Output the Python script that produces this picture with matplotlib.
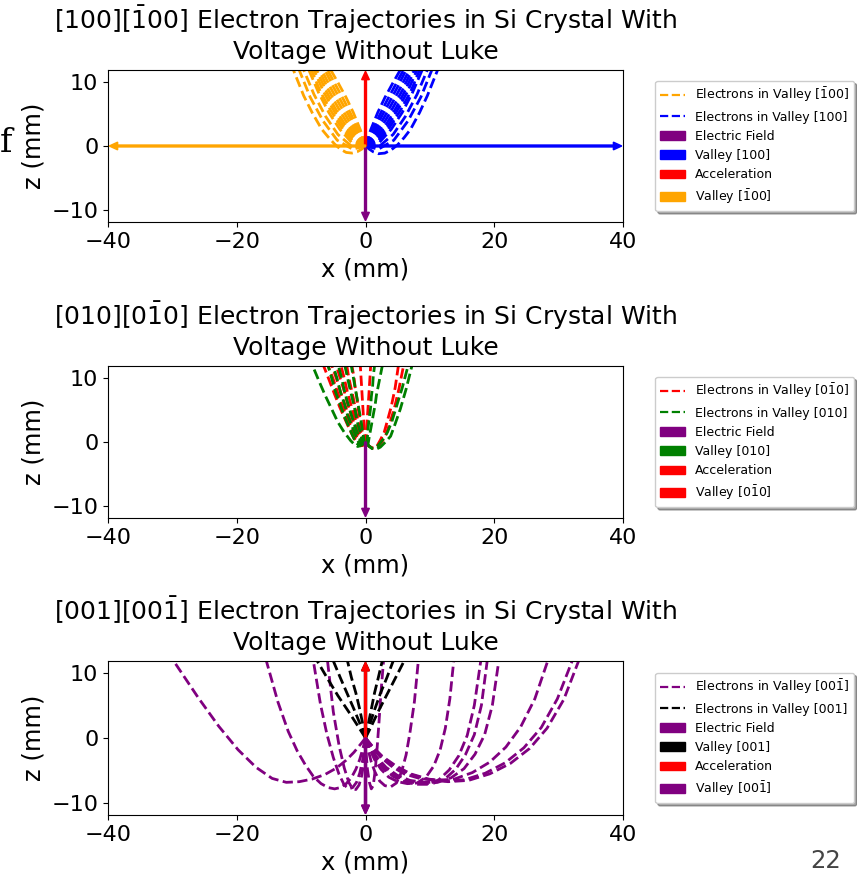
import matplotlib
matplotlib.use("Agg")
from matplotlib import pyplot as plt
from matplotlib.lines import Line2D
from matplotlib.patches import Patch

# ---- panel 1: valleys [100] / [-100] ----
p1_title = "[100][$\\bar{1}$00] Electron Trajectories in Si Crystal With\nVoltage Without Luke"
p1_blue_x = [[0, 0.8, 1.9, 3.0, 4.2, 5.4],
             [0, 1.0, 2.2, 3.3, 4.6, 5.9],
             [0, 1.2, 2.4, 3.6, 5.0, 6.3],
             [0, 1.4, 2.7, 4.0, 5.4, 6.8],
             [0, 1.6, 3.0, 4.4, 5.8, 7.2],
             [0, 1.8, 3.3, 4.8, 6.2, 7.6],
             [0, 2.0, 3.6, 5.1, 6.6, 8.0],
             [0, 2.1, 3.8, 5.4, 7.0, 8.4],
             [0, 2.2, 4.0, 5.7, 7.3, 8.8],
             [0, 2.2, 4.3, 6.2, 8.0, 9.6],
             [0, 2.0, 4.4, 6.6, 8.6, 10.3],
             [0, 0.6, 1.2, 2.0, 3.0, 4.0, 5.0, 6.0, 7.0, 8.4, 9.6, 11.2]]
p1_blue_z = [[0, 2.5, 5.2, 7.5, 9.7, 11.8],
             [0, 2.2, 4.8, 7.0, 9.4, 11.8],
             [0, 2.0, 4.4, 6.6, 9.2, 11.8],
             [0, 1.8, 4.1, 6.4, 9.0, 11.8],
             [0, 1.6, 3.8, 6.2, 8.8, 11.8],
             [0, 1.4, 3.5, 6.0, 8.7, 11.8],
             [0, 1.2, 3.3, 5.8, 8.6, 11.8],
             [0, 0.9, 3.0, 5.5, 8.4, 11.8],
             [0, 0.6, 2.6, 5.2, 8.3, 11.8],
             [0, 0.0, 1.8, 4.6, 8.0, 11.8],
             [0, -0.5, 0.9, 3.9, 7.6, 11.8],
             [0, -0.5, -0.9, -1.2, -1.1, -0.6, 0.2, 1.3, 2.6, 5.2, 7.8, 11.8]]
p1_orange_x = [[0, -0.8, -1.9, -3.0, -4.2, -5.4],
               [0, -1.0, -2.2, -3.3, -4.6, -5.9],
               [0, -1.2, -2.4, -3.6, -5.0, -6.3],
               [0, -1.4, -2.7, -4.0, -5.4, -6.8],
               [0, -1.6, -3.0, -4.4, -5.8, -7.2],
               [0, -1.8, -3.3, -4.8, -6.2, -7.6],
               [0, -2.0, -3.6, -5.1, -6.6, -8.0],
               [0, -2.1, -3.8, -5.4, -7.0, -8.4],
               [0, -2.2, -4.0, -5.7, -7.3, -8.8],
               [0, -2.2, -4.3, -6.2, -8.0, -9.6],
               [0, -2.0, -4.4, -6.6, -8.6, -10.3],
               [0, -0.6, -1.3, -2.1, -3.0, -3.9, -4.8, -5.8, -6.8, -8.3, -9.6, -11.2]]
p1_orange_z = [[0, 2.5, 5.2, 7.5, 9.7, 11.8],
               [0, 2.2, 4.8, 7.0, 9.4, 11.8],
               [0, 2.0, 4.4, 6.6, 9.2, 11.8],
               [0, 1.8, 4.1, 6.4, 9.0, 11.8],
               [0, 1.6, 3.8, 6.2, 8.8, 11.8],
               [0, 1.4, 3.5, 6.0, 8.7, 11.8],
               [0, 1.2, 3.3, 5.8, 8.6, 11.8],
               [0, 0.9, 3.0, 5.5, 8.4, 11.8],
               [0, 0.6, 2.6, 5.2, 8.3, 11.8],
               [0, 0.0, 1.8, 4.6, 8.0, 11.8],
               [0, -0.5, 0.9, 3.9, 7.6, 11.8],
               [0, -0.5, -0.9, -1.1, -1.0, -0.5, 0.3, 1.4, 2.6, 5.2, 7.8, 11.8]]
p1_arrow_labels = ["Electric Field", "Valley [100]", "Acceleration", "Valley [$\\bar{1}$00]"]
p1_arrow_colors = ["purple", "blue", "red", "orange"]
p1_arrow_dx = [0, 39.8, 0, -39.8]
p1_arrow_dz = [-11.6, 0, 11.6, 0]
p1_line_labels = ["Electrons in Valley [$\\bar{1}$00]", "Electrons in Valley [100]"]

# ---- panel 2: valleys [010] / [0-10] ----
p2_title = "[010][0$\\bar{1}$0] Electron Trajectories in Si Crystal With\nVoltage Without Luke"
p2_red_x = [[0, -0.4, -0.8, -1.3, -1.8, -2.5, -3.2, -4.0, -4.8, -5.6, -6.5],
            [0, -0.35, -0.7, -1.1, -1.6, -2.2, -2.9, -3.6, -4.3, -5.0, -5.8],
            [0, -0.3, -0.6, -1.0, -1.4, -2.0, -2.6, -3.2, -3.9, -4.5, -5.2],
            [0, -0.25, -0.5, -0.8, -1.2, -1.7, -2.2, -2.8, -3.3, -3.9, -4.5],
            [0, -0.2, -0.4, -0.7, -1.0, -1.4, -1.9, -2.4, -2.9, -3.3, -3.8],
            [0, -0.15, -0.3, -0.5, -0.8, -1.1, -1.5, -1.8, -2.2, -2.6, -2.9],
            [0, -0.1, -0.2, -0.4, -0.6, -0.8, -1.1, -1.3, -1.6, -1.8, -2.1],
            [0, 0.0, -0.05, -0.1, -0.2, -0.3, -0.4, -0.5, -0.6, -0.7, -0.8],
            [0, 0.05, 0.1, 0.15, 0.2, 0.3, 0.4, 0.5, 0.6, 0.7, 0.8],
            [0, 0.5, 1.0, 1.4, 1.8, 2.3, 2.9, 3.4, 4.0, 4.6, 5.1],
            [0, 0.5, 1.1, 1.5, 2.0, 2.6, 3.2, 3.8, 4.5, 5.2, 5.9]]
p2_red_z = [[0, -0.5, -0.6, -0.2, 0.6, 2.0, 3.6, 5.4, 7.4, 9.5, 11.8],
            [0, -0.45, -0.55, -0.2, 0.7, 2.2, 3.8, 5.6, 7.6, 9.7, 11.8],
            [0, -0.4, -0.5, -0.1, 0.9, 2.4, 4.0, 5.8, 7.8, 9.8, 11.8],
            [0, -0.35, -0.45, 0.1, 1.1, 2.6, 4.2, 6.0, 7.9, 9.8, 11.8],
            [0, -0.3, -0.4, 0.4, 1.4, 2.9, 4.5, 6.3, 8.1, 9.9, 11.8],
            [0, -0.25, -0.35, 0.6, 1.7, 3.1, 4.7, 6.4, 8.2, 10.0, 11.8],
            [0, -0.2, -0.3, 0.8, 2.0, 3.4, 5.0, 6.6, 8.4, 10.1, 11.8],
            [0, -0.2, -0.1, 1.0, 2.3, 3.7, 5.2, 6.8, 8.5, 10.1, 11.8],
            [0, -0.2, 0.0, 1.2, 2.5, 4.0, 5.5, 7.0, 8.6, 10.2, 11.8],
            [0, -0.6, -0.9, -0.9, -0.6, 0.3, 1.5, 3.3, 5.5, 8.4, 11.8],
            [0, -0.6, -1.0, -1.0, -0.7, 0.1, 1.2, 3.0, 5.3, 8.3, 11.8]]
p2_green_x = [[0, -0.6, -1.2, -1.7, -2.3, -3.3, -4.3, -5.2, -6.2, -7.2, -8.2],
              [0, -0.5, -1.0, -1.5, -2.0, -2.6, -3.3, -3.9, -4.6, -5.2, -5.8],
              [0, -0.4, -0.8, -1.2, -1.6, -2.2, -2.8, -3.3, -3.9, -4.4, -5.0],
              [0, -0.3, -0.6, -0.9, -1.3, -1.8, -2.3, -2.8, -3.3, -3.7, -4.2],
              [0, -0.2, -0.4, -0.6, -0.9, -1.3, -1.6, -2.0, -2.4, -2.8, -3.2],
              [0, -0.1, -0.2, -0.3, -0.5, -0.7, -1.0, -1.3, -1.6, -1.9, -2.2],
              [0, 0.1, 0.2, 0.3, 0.4, 0.6, 0.8, 0.9, 1.1, 1.2, 1.4],
              [0, 0.2, 0.4, 0.6, 0.9, 1.2, 1.5, 1.7, 2.0, 2.3, 2.6],
              [0, 0.5, 1.0, 1.5, 2.0, 2.7, 3.4, 4.1, 4.8, 5.7, 6.6],
              [0, 0.6, 1.2, 1.7, 2.3, 3.1, 3.9, 4.6, 5.4, 6.3, 7.2]]
p2_green_z = [[0, -0.5, -0.7, -0.4, 0.2, 1.5, 3.1, 5.0, 7.1, 9.4, 11.8],
              [0, -0.3, -0.5, -0.1, 1.0, 2.4, 4.0, 5.7, 7.6, 9.7, 11.8],
              [0, -0.25, -0.4, 0.2, 1.2, 2.7, 4.2, 6.0, 7.8, 9.8, 11.8],
              [0, -0.2, -0.3, 0.5, 1.5, 3.0, 4.5, 6.2, 8.0, 9.9, 11.8],
              [0, -0.15, -0.25, 0.6, 1.8, 3.2, 4.8, 6.5, 8.2, 10.0, 11.8],
              [0, -0.1, -0.2, 0.7, 2.0, 3.4, 5.0, 6.7, 8.4, 10.1, 11.8],
              [0, -0.15, -0.2, 0.8, 2.2, 3.8, 5.4, 7.0, 8.6, 10.2, 11.8],
              [0, -0.2, -0.3, 0.9, 2.5, 4.2, 5.8, 7.3, 8.8, 10.3, 11.8],
              [0, -0.6, -1.0, -0.9, -0.5, 0.4, 1.5, 3.2, 5.5, 8.4, 11.8],
              [0, -0.7, -1.1, -1.1, -0.8, 0.0, 0.9, 2.8, 5.1, 8.2, 11.8]]
p2_arrow_labels = ["Electric Field", "Valley [010]", "Acceleration", "Valley [0$\\bar{1}$0]"]
p2_arrow_colors = ["purple", "green", "red", "red"]
p2_arrow_dx = [0, 0, 0, 0]
p2_arrow_dz = [-11.6, 0, 0, 0]
p2_line_labels = ["Electrons in Valley [0$\\bar{1}$0]", "Electrons in Valley [010]"]

# ---- panel 3: valleys [001] / [00-1] ----
p3_title = "[001][00$\\bar{1}$] Electron Trajectories in Si Crystal With\nVoltage Without Luke"
p3_purple_x = [[0, -0.8, -1.8, -3.0, -4.5, -6.3, -8.3, -10.3, -12.3, -14.5, -17.0, -19.8, -22.8, -26.0, -29.8],
               [0, -0.4, -0.9, -1.5, -2.2, -3.0, -3.9, -4.8, -5.8, -6.9, -8.1, -9.3, -10.6, -12.0, -13.6, -15.4],
               [0, -0.2, -0.5, -0.9, -1.4, -2.0, -2.6, -3.3, -4.1, -5.0, -6.0, -7.0, -8.1],
               [0, -0.1, -0.3, -0.6, -1.0, -1.5, -2.0, -2.6, -3.3, -4.1, -5.0, -5.9],
               [0, 0.1, 0.3, 0.6, 0.9, 1.2, 1.5, 1.8, 2.1, 2.4, 2.8],
               [0, 0.4, 0.9, 1.5, 2.2, 3.0, 3.9, 4.8, 5.6, 6.3, 6.9, 7.6, 8.2],
               [0, 0.6, 1.4, 2.4, 3.6, 5.0, 6.5, 8.0, 9.4, 10.6, 11.6, 12.4, 13.1, 13.7],
               [0, 0.7, 1.6, 2.8, 4.3, 6.0, 7.8, 9.6, 11.4, 13.0, 14.5, 15.8, 16.9, 17.9],
               [0, 0.7, 1.7, 3.0, 4.6, 6.4, 8.4, 10.4, 12.3, 14.0, 15.5, 16.9, 18.0, 18.9],
               [0, 0.8, 1.8, 3.2, 4.9, 6.9, 9.0, 11.2, 13.3, 15.3, 17.0, 18.5, 19.7, 20.7],
               [0, 1.0, 2.3, 4.0, 6.0, 8.4, 11.0, 13.8, 16.6, 19.3, 21.8, 24.1, 26.3, 28.3],
               [0, 1.1, 2.5, 4.4, 6.7, 9.4, 12.3, 15.4, 18.6, 21.7, 24.6, 27.3, 29.8, 32.1],
               [0, 1.1, 2.6, 4.6, 7.0, 9.8, 12.8, 16.0, 19.3, 22.5, 25.5, 28.2, 30.8, 33.1]]
p3_purple_z = [[0, -1.0, -2.2, -3.4, -4.6, -5.6, -6.3, -6.7, -6.8, -6.2, -4.5, -1.8, 1.8, 6.2, 11.8],
               [0, -1.6, -3.3, -4.8, -6.1, -7.0, -7.6, -7.8, -7.6, -7.0, -5.9, -4.2, -2.0, 1.0, 5.5, 11.8],
               [0, -1.8, -3.7, -5.4, -6.8, -7.6, -7.8, -7.2, -5.6, -3.0, 0.6, 5.2, 11.8],
               [0, -2.0, -4.0, -5.8, -7.2, -7.9, -7.8, -6.8, -4.6, -1.2, 4.0, 11.8],
               [0, -2.4, -4.8, -6.8, -7.8, -7.3, -5.0, -1.6, 2.5, 7.0, 11.8],
               [0, -1.8, -3.7, -5.3, -6.6, -7.3, -7.5, -6.9, -5.2, -2.6, 0.8, 5.6, 11.8],
               [0, -1.6, -3.3, -4.8, -6.0, -6.7, -7.0, -6.9, -6.0, -4.3, -1.8, 1.5, 6.0, 11.8],
               [0, -1.6, -3.2, -4.7, -5.9, -6.7, -7.1, -7.1, -6.4, -4.9, -2.7, 0.4, 5.0, 11.8],
               [0, -1.5, -3.1, -4.6, -5.8, -6.6, -7.0, -7.0, -6.3, -4.8, -2.6, 0.5, 5.0, 11.8],
               [0, -1.5, -3.0, -4.5, -5.7, -6.5, -6.8, -6.8, -6.1, -4.7, -2.5, 0.5, 5.0, 11.8],
               [0, -1.4, -2.9, -4.3, -5.5, -6.2, -6.5, -6.3, -5.3, -3.7, -1.4, 1.7, 6.0, 11.8],
               [0, -1.4, -2.9, -4.3, -5.5, -6.3, -6.6, -6.4, -5.4, -3.8, -1.5, 1.6, 6.0, 11.8],
               [0, -1.3, -2.8, -4.2, -5.5, -6.3, -6.7, -6.5, -5.5, -3.9, -1.6, 1.5, 5.9, 11.8]]
p3_black_x = [[0, -1.1, -2.6, -4.3, -5.9, -7.5],
              [0, -0.7, -1.7, -2.8, -3.9, -5.0],
              [0, -0.4, -0.9, -1.5, -2.2, -2.8],
              [0, 0.4, 0.9, 1.4, 2.0, 2.6],
              [0, 0.6, 1.4, 2.3, 3.3, 4.3],
              [0, 0.9, 2.0, 3.3, 4.6, 6.0]]
p3_black_z = [[0, 1.7, 4.0, 6.5, 9.1, 11.8],
              [0, 1.8, 4.2, 6.7, 9.2, 11.8],
              [0, 2.0, 4.4, 6.9, 9.3, 11.8],
              [0, 2.0, 4.4, 6.9, 9.3, 11.8],
              [0, 1.9, 4.3, 6.8, 9.2, 11.8],
              [0, 1.8, 4.1, 6.6, 9.1, 11.8]]
p3_arrow_labels = ["Electric Field", "Valley [001]", "Acceleration", "Valley [00$\\bar{1}$]"]
p3_arrow_colors = ["purple", "black", "red", "purple"]
p3_arrow_dx = [0, 0, 0, 0]
p3_arrow_dz = [-11.6, 11.6, 11.6, -11.6]
p3_line_labels = ["Electrons in Valley [00$\\bar{1}$]", "Electrons in Valley [001]"]

x_ticks = [-40, -20, 0, 20, 40]
z_ticks = [-10, 0, 10]


def panel(ax, title, xa, za, ca, xb, zb, cb, line_labels,
          arrow_labels, arrow_colors, adx, adz):
    for xs, zs in zip(xa, za):
        ax.plot(xs, zs, "--", color=ca, lw=2, zorder=2)
    for xs, zs in zip(xb, zb):
        ax.plot(xs, zs, "--", color=cb, lw=2, zorder=2)
    for dx, dz, c in zip(adx, adz, arrow_colors):
        if dx == 0 and dz == 0:
            continue
        ax.arrow(0, 0, dx, dz, width=0.3, head_width=1.2, head_length=1.3,
                 length_includes_head=True, color=c, zorder=3)
    ax.set_xlim(-40, 40)
    ax.set_ylim(-11.8, 11.8)
    ax.set_xticks(x_ticks)
    ax.set_yticks(z_ticks)
    ax.tick_params(labelsize=16)
    ax.set_xlabel("x (mm)", fontsize=17.5)
    ax.set_ylabel("z (mm)", fontsize=17.5)
    ax.set_title(title, fontsize=18, pad=8)
    handles = [Line2D([], [], ls="--", color=ca, lw=1.6),
               Line2D([], [], ls="--", color=cb, lw=1.6)]
    handles += [Patch(color=c) for c in arrow_colors]
    ax.legend(handles, line_labels + arrow_labels, loc="center left",
              bbox_to_anchor=(1.05, 0.5), fontsize=9, shadow=True)


fig = plt.figure(figsize=(8.57, 8.75), dpi=100)
ax1 = fig.add_axes([0.126, 0.7463, 0.601, 0.1737])
ax2 = fig.add_axes([0.126, 0.408, 0.601, 0.1737])
ax3 = fig.add_axes([0.126, 0.0686, 0.601, 0.176])

panel(ax1, p1_title, p1_orange_x, p1_orange_z, "orange", p1_blue_x, p1_blue_z, "blue",
      p1_line_labels, p1_arrow_labels, p1_arrow_colors, p1_arrow_dx, p1_arrow_dz)
panel(ax2, p2_title, p2_red_x, p2_red_z, "red", p2_green_x, p2_green_z, "green",
      p2_line_labels, p2_arrow_labels, p2_arrow_colors, p2_arrow_dx, p2_arrow_dz)
panel(ax3, p3_title, p3_purple_x, p3_purple_z, "purple", p3_black_x, p3_black_z, "black",
      p3_line_labels, p3_arrow_labels, p3_arrow_colors, p3_arrow_dx, p3_arrow_dz)

fig.text(0.0, 0.826, "f", family="DejaVu Serif", fontsize=24)
fig.text(0.946, 0.008, "22", fontsize=17.5, color="#444444")

plt.savefig("out.png", dpi=100)
